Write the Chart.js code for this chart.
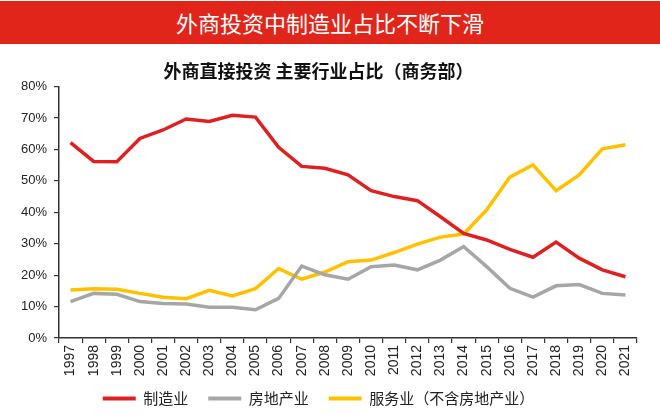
<!DOCTYPE html>
<html>
<head>
<meta charset="utf-8">
<script src="https://cdn.jsdelivr.net/npm/chart.js@4.4.1/dist/chart.umd.min.js"></script>
<style>
  html, body { margin: 0; padding: 0; background: #fff; }
  #wrap { position: relative; width: 660px; height: 417px; overflow: hidden; }
  #banner {
    position: absolute; left: 0; top: 1px; width: 660px; height: 43px;
    background: #e1251b; color: #fff; z-index: 2;
    font-family: "Noto Sans CJK SC", sans-serif; font-size: 22px;
    line-height: 43px; text-align: center; letter-spacing: 0px;
  }
  #c { position: absolute; left: 0; top: 0; }
</style>
</head>
<body>
<div id="wrap">
  <div id="banner">外商投资中制造业占比不断下滑</div>
  <canvas id="c" width="660" height="417"></canvas>
</div>
<script>
const years = ["1997","1998","1999","2000","2001","2002","2003","2004","2005","2006","2007","2008","2009","2010","2011","2012","2013","2014","2015","2016","2017","2018","2019","2020","2021"];
const manufacturing = [62.2,56.2,56.1,63.5,66.2,69.7,68.9,70.9,70.3,60.7,54.6,54.0,51.9,46.9,45.0,43.7,38.6,33.3,31.2,28.2,25.7,30.5,25.4,21.7,19.5];
const realEstate = [11.6,14.2,13.9,11.6,11.0,10.8,9.8,9.8,9.0,12.6,22.9,20.1,18.7,22.7,23.2,21.7,24.8,29.1,22.7,15.8,13.0,16.6,17.0,14.2,13.7];
const services = [15.3,15.7,15.5,14.2,13.0,12.5,15.2,13.4,15.7,22.1,18.7,21.0,24.3,24.8,27.2,29.9,32.1,33.1,40.8,51.2,55.1,46.9,51.9,60.2,61.5];
const yTicks = [0,10,20,30,40,50,60,70,80];
const seriesNames = ["制造业","房地产业","服务业（不含房地产业）"];
const seriesColors = ["#e02020","#a6a6a6","#ffc000"];
const chartTitle = "外商直接投资 主要行业占比（商务部）";

const cjk = '"Noto Sans CJK SC", sans-serif';
const latin = '"Liberation Sans", Arial, sans-serif';

const data = {
  labels: years,
  datasets: [manufacturing, realEstate, services].map((d, i) => ({
    label: seriesNames[i],
    data: d,
    borderColor: seriesColors[i],
    backgroundColor: seriesColors[i],
    borderWidth: 3.5,
    pointRadius: 0,
    tension: 0,
    fill: false
  }))
};

// Keep the legend block compact while keeping wide spacing between items
const legendTweak = {
  id: 'legendTweak',
  beforeUpdate(chart) {
    const lg = chart.legend;
    if (lg && !lg._tweaked) {
      const f = lg.fit;
      lg.fit = function () { f.call(this); this.height = 35; };
      lg._tweaked = true;
    }
  },
  afterLayout(chart) {
    const lg = chart.legend;
    if (lg) { lg.top -= 9; lg.bottom -= 9; }
  }
};

new Chart(document.getElementById('c'), {
  type: 'line',
  data,
  plugins: [legendTweak],
  options: {
    responsive: false,
    animation: false,
    devicePixelRatio: 1,
    layout: { padding: { top: 44, left: 0, right: 23, bottom: 2 } },
    plugins: {
      title: {
        display: true,
        text: chartTitle,
        color: '#111',
        font: { family: cjk, size: 18, weight: 'bold' },
        padding: { top: 16, bottom: 5 }
      },
      legend: {
        position: 'bottom',
        labels: {
          boxWidth: 33,
          boxHeight: 4,
          padding: 20,
          color: '#222',
          font: { family: cjk, size: 15 },
          generateLabels(chart) {
            const items = Chart.defaults.plugins.legend.labels.generateLabels(chart);
            items.forEach(it => { it.lineWidth = 0; it.strokeStyle = 'rgba(0,0,0,0)'; });
            return items;
          }
        }
      },
      tooltip: { enabled: false }
    },
    scales: {
      x: {
        offset: true,
        grid: { offset: true, drawOnChartArea: false, drawTicks: true, tickLength: 5, color: '#333', lineWidth: 1.2 },
        border: { display: true, color: '#333', width: 1.5 },
        ticks: {
          color: '#222', font: { family: latin, size: 14 },
          minRotation: 90, maxRotation: 90, autoSkip: false, padding: 2
        },
        afterFit(scale) { scale.height = 42; }
      },
      y: {
        min: 0, max: 80,
        afterBuildTicks(scale) { scale.ticks = yTicks.map(v => ({ value: v })); },
        grid: { drawOnChartArea: false, drawTicks: true, tickLength: 5, color: '#333', lineWidth: 1.2 },
        border: { display: true, color: '#333', width: 1.5 },
        ticks: {
          color: '#222', font: { family: latin, size: 13 }, padding: 7,
          callback: v => v + '%'
        },
        afterFit(scale) { scale.width = 59; }
      }
    }
  }
});
</script>
</body>
</html>
